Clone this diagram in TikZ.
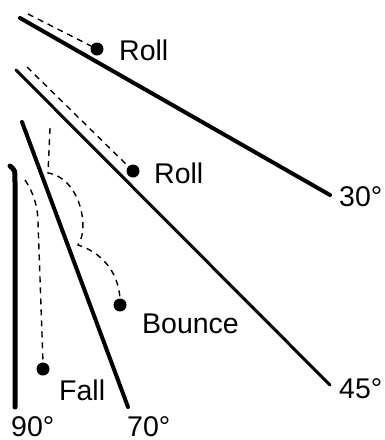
\documentclass[tikz,border=0pt]{standalone}
\usepackage{fontspec}
\setmainfont{Liberation Sans}
\begin{document}
\begin{tikzpicture}[x=1pt,y=-1pt,
  ball/.style={circle,fill=black,inner sep=0pt,minimum size=13pt},
  lbl/.style={anchor=base west,inner sep=0pt,font=\fontsize{28.5}{32}\selectfont},
  slope/.style={line width=#1,line cap=round},
  path/.style={dashed,line width=1.4pt,dash pattern=on 6pt off 5pt}]
\useasboundingbox (0,0) rectangle (385,440);
% slopes
\coordinate (s30a) at (20,18);  \coordinate (s30b) at (330,195);
\coordinate (s45a) at (16,70);  \coordinate (s45b) at (330,385);
\coordinate (s70a) at (22,122); \coordinate (s70b) at (128,407);
\coordinate (s90a) at (10,166); \coordinate (s90b) at (15,407);
\draw[slope=4pt] (s30a) -- (s30b);
\draw[slope=3pt] (s45a) -- (s45b);
\draw[slope=4pt] (s70a) -- (s70b);
\draw[slope=5pt] (s90a) .. controls (15,170) .. (15,182) -- (s90b);
% balls
\node[ball] (b1) at (97,49) {};
\node[ball] (b2) at (133,171) {};
\node[ball] (b3) at (120,305) {};
\node[ball] (b4) at (43,369) {};
% paths
\coordinate (p1) at (28,14);
\coordinate (p2) at (27,67);
\coordinate (p3) at (50,128);
\coordinate (p4) at (25,180);
\draw[path] (p1) -- (b1);
\draw[path] (p2) -- (b2);
\draw[path] (p3) -- (48,173) .. controls (80,178) and (90,228) .. (78,245)
  .. controls (100,252) and (118,270) .. (b3.north);
\draw[path] (p4) .. controls (35,195) and (38,210) .. (38,222) -- (b4.north);
% labels
\node[lbl] (l1) at (119,60) {Roll};
\node[lbl] (l2) at (154,183) {Roll};
\node[lbl] (l3) at (142,333) {Bounce};
\node[lbl] (l4) at (59,400) {Fall};
\node[lbl] (a90) at (11,436) {90°};
\node[lbl] (a70) at (127,436) {70°};
\node[lbl] (a30) at (339,206) {30°};
\node[lbl] (a45) at (339,398) {45°};
\end{tikzpicture}
\end{document}
